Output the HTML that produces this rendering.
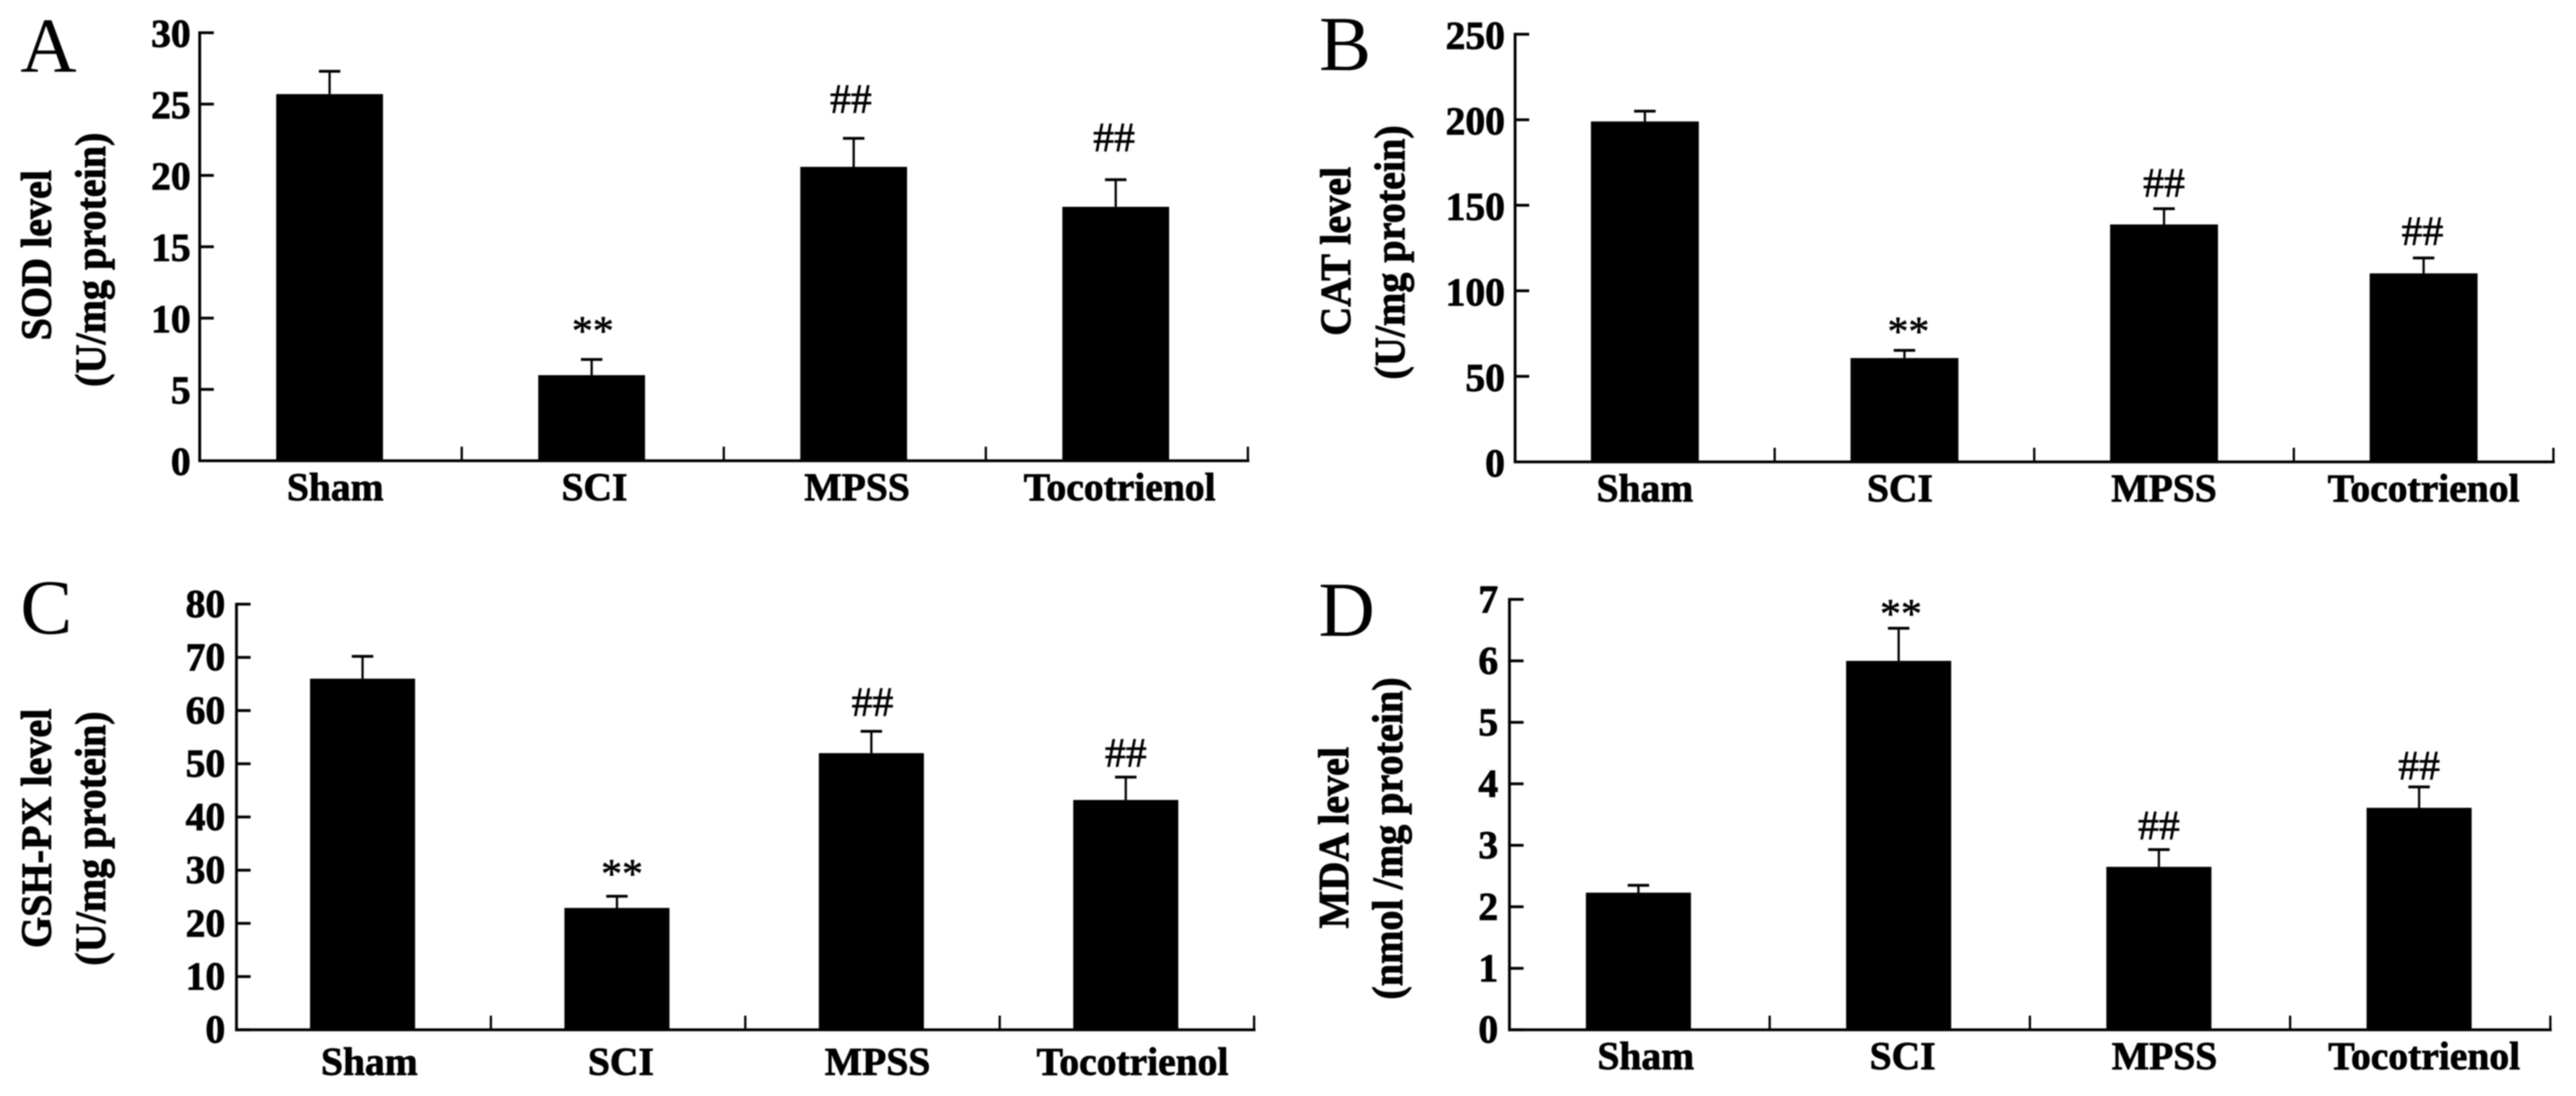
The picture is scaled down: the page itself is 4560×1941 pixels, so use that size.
<!DOCTYPE html>
<html lang="en">
<head>
<meta charset="utf-8">
<title>Oxidative stress markers</title>
<style>
html,body{margin:0;padding:0;background:#fff;}
svg{display:block;filter:blur(1px);}
text{font-family:"Liberation Serif",serif;fill:#000;}
.b{font-weight:700;stroke:#000;stroke-width:1.4px;}
.m{stroke:#000;stroke-width:1px;}
</style>
</head>
<body>
<svg id="figure" xmlns="http://www.w3.org/2000/svg" width="4560" height="1941" viewBox="0 0 4560 1941">
<rect width="4560" height="1941" fill="#fff"/>
</svg>
<script>
const categories = ['Sham', 'SCI', 'MPSS', 'Tocotrienol'];

const sodMeans = [25.7, 6.0, 20.6, 17.8];
const sodErrors = [1.6, 1.1, 2.0, 1.9];
const sodMarks = ['', '**', '##', '##'];
const sodTicks = [0, 5, 10, 15, 20, 25, 30];

const catMeans = [199, 60.7, 138.8, 110.2];
const catErrors = [6, 4.5, 9.2, 9];
const catMarks = ['', '**', '##', '##'];
const catTicks = [0, 50, 100, 150, 200, 250];

const gshMeans = [66, 22.9, 52, 43.2];
const gshErrors = [4.2, 2.2, 4.1, 4.3];
const gshMarks = ['', '**', '##', '##'];
const gshTicks = [0, 10, 20, 30, 40, 50, 60, 70, 80];

const mdaMeans = [2.23, 6.0, 2.65, 3.61];
const mdaErrors = [0.12, 0.53, 0.28, 0.34];
const mdaMarks = ['', '**', '##', '##'];
const mdaTicks = [0, 1, 2, 3, 4, 5, 6, 7];

const panels = [
  {id:'a', letter:'A', lx:36, ly:127, means:sodMeans, errors:sodErrors, marks:sodMarks, ticks:sodTicks,
   x0:353.5, x1:2209, top:58, base:816, barW:189, barDx:-2, tickBase:25, tickGap:16,
   labelBase:70, labelDx:[10,5,6,7], markGap:[0,26,45,50], markDx:[0,2,-5,-3],
   t1:'SOD level', t1x:90, t1y:452, t2:'(U/mg protein)', t2x:186, t2y:460},
  {id:'b', letter:'B', lx:2335, ly:124, means:catMeans, errors:catErrors, marks:catMarks, ticks:catTicks,
   x0:2682, x1:4520, top:60.6, base:818, barW:191, barDx:0, tickBase:26, tickGap:18,
   labelBase:70, labelDx:[0,-8,0,0], markGap:[0,9,21,23], markDx:[0,7,0,-2],
   t1:'CAT level', t1x:2390, t1y:445, t2:'(U/mg protein)', t2x:2486, t2y:447},
  {id:'c', letter:'C', lx:36, ly:1122, means:gshMeans, errors:gshErrors, marks:gshMarks, ticks:gshTicks,
   x0:418.6, x1:2220, top:1070, base:1823.7, barW:186, barDx:-2, tickBase:23, tickGap:20,
   labelBase:80, labelDx:[12,7,11,12], markGap:[0,15,27,18], markDx:[0,9,2,0],
   t1:'GSH-PX level', t1x:90, t1y:1467, t2:'(U/mg protein)', t2x:186, t2y:1485},
  {id:'d', letter:'D', lx:2334, ly:1126, means:mdaMeans, errors:mdaErrors, marks:mdaMarks, ticks:mdaTicks,
   x0:2672, x1:4514.6, top:1061.5, base:1823.7, barW:186, barDx:-2, tickBase:23, tickGap:20,
   labelBase:70, labelDx:[13,7,10,9], markGap:[0,1,18,13], markDx:[0,4,0,0],
   t1:'MDA level', t1x:2386.5, t1y:1483.6, t2:'(nmol /mg protein)', t2x:2482, t2y:1485}
];

const NS = 'http://www.w3.org/2000/svg';
const figure = document.getElementById('figure');

function el(parent, tag, attrs, content) {
  const node = document.createElementNS(NS, tag);
  Object.keys(attrs).forEach(function (k) { node.setAttribute(k, attrs[k]); });
  if (content !== undefined) node.textContent = content;
  parent.appendChild(node);
  return node;
}

function line(parent, x1, y1, x2, y2, w) {
  return el(parent, 'line', {x1:x1, y1:y1, x2:x2, y2:y2, stroke:'#000', 'stroke-width':w});
}

panels.forEach(function (p) {
  const maxTick = p.ticks[p.ticks.length - 1];
  const yScale = function (v) { return p.base - (v / maxTick) * (p.base - p.top); };
  const band = (p.x1 - p.x0) / categories.length;
  const xCenter = function (i) { return p.x0 + band * (i + 0.5) + p.barDx; };

  const g = el(figure, 'g', {});
  
  

  const letter = el(g, 'text', {x:p.lx, y:p.ly, 'font-size':138}, p.letter);
  
  

  const t1 = el(g, 'text', {class:'b', 'font-size':71, 'text-anchor':'middle',
    transform:'translate(' + p.t1x + ',' + p.t1y + ') rotate(-90) scale(1,1.08)'}, p.t1);
  
  

  const t2 = el(g, 'text', {class:'b', 'font-size':71, 'text-anchor':'middle',
    transform:'translate(' + p.t2x + ',' + p.t2y + ') rotate(-90) scale(1,1.08)'}, p.t2);
  
  

  const yAxis = line(g, p.x0, p.top - 2.5, p.x0, p.base + 2.5, 5);
  
  

  const xAxis = line(g, p.x0 - 2.5, p.base, p.x1 + 2.5, p.base, 5);
  
  

  p.ticks.forEach(function (t) {
    const y = yScale(t);
    const tick = line(g, p.x0, y, p.x0 + 25, y, 5);
    
    
    const label = el(g, 'text', {class:'b', x:p.x0 - p.tickGap, y:y + p.tickBase,
      'font-size':70, 'text-anchor':'end'}, String(t));
    
    
  });

  for (let i = 1; i <= categories.length; i++) {
    const x = p.x0 + band * i;
    const xt = line(g, x, p.base, x, p.base - 25, 4);
    
    
  }

  categories.forEach(function (c, i) {
    const cx = xCenter(i);
    const yTop = yScale(p.means[i]);
    const yErr = yScale(p.means[i] + p.errors[i]);

    const stem = line(g, cx, yTop, cx, yErr, 4);
    
    

    const cap = line(g, cx - 19, yErr, cx + 19, yErr, 5);
    
    

    const bar = el(g, 'rect', {x:cx - p.barW / 2, y:yTop, width:p.barW, height:p.base - yTop, fill:'#000'});
    
    

    const label = el(g, 'text', {class:'b', x:cx + p.labelDx[i], y:p.base + p.labelBase,
      'font-size':70, 'text-anchor':'middle'}, c);
    
    

    if (p.marks[i]) {
      const mark = el(g, 'text', {class:'m', x:cx + p.markDx[i], y:yErr - p.markGap[i],
        'font-size':74, 'text-anchor':'middle'}, p.marks[i]);
      
      
    }
  });
});
</script>
</body>
</html>
